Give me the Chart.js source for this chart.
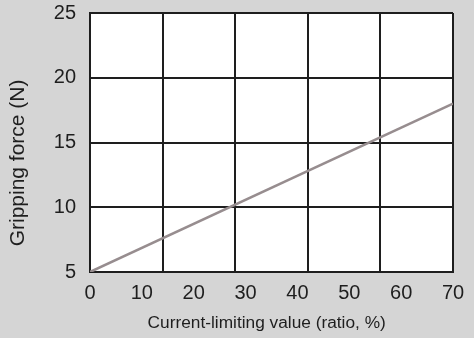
<!DOCTYPE html>
<html>
<head>
<meta charset="utf-8">
<script src="https://cdn.jsdelivr.net/npm/chart.js@4/dist/chart.umd.min.js"></script>
<style>
  html, body { margin: 0; padding: 0; background: #d5d5d5; }
  #wrap { width: 474px; height: 338px; }
</style>
</head>
<body>
<div id="wrap"><canvas id="chart"></canvas></div>
<script>
// data
const currentRatio = [0, 70];
const grippingForce = [5, 18];
const xTickValues = [0, 10, 20, 30, 40, 50, 60, 70];
const yTickValues = [5, 10, 15, 20, 25];
const xGridValues = [0, 14, 28, 42, 56, 70];

const ink = '#1e1e1e';
const family = 'Liberation Sans, Arial, sans-serif';
const tickFont = { family: family, size: 20 };

// white plot area
const plotBackground = {
    id: 'plotBackground',
    beforeDraw(chart) {
        const { ctx, chartArea: a } = chart;
        ctx.save();
        ctx.fillStyle = '#ffffff';
        ctx.fillRect(a.left, a.top, a.right - a.left, a.bottom - a.top);
        ctx.restore();
    }
};

new Chart(document.getElementById('chart'), {
    type: 'scatter',
    data: {
        datasets: [{
            data: currentRatio.map((x, i) => ({ x: x, y: grippingForce[i] })),
            showLine: true,
            borderColor: '#978d8f',
            borderWidth: 2.5,
            pointRadius: 0,
            fill: false
        }]
    },
    options: {
        responsive: true,
        maintainAspectRatio: false,
        animation: false,
        layout: { padding: { top: 13, right: 21, bottom: 0, left: 0 } },
        plugins: {
            legend: { display: false },
            tooltip: { enabled: false }
        },
        scales: {
            x: {
                type: 'linear',
                min: 0,
                max: 70,
                afterBuildTicks: s => { s.ticks = xTickValues.map(v => ({ value: v })); },
                afterFit: s => { s.height = 66; s.paddingLeft = 0; s.paddingRight = 0; },
                grid: { display: false },
                border: { color: ink, width: 2 },
                ticks: { color: ink, font: tickFont, padding: 1 },
                title: {
                    display: true,
                    // trailing spaces nudge the centred title a little left, as in the original
                    text: 'Current-limiting value (ratio, %)  ',
                    color: ink,
                    font: { family: family, size: 17.3 },
                    padding: { top: 0 }
                }
            },
            xg: {
                type: 'linear',
                position: 'top',
                min: 0,
                max: 70,
                afterBuildTicks: s => { s.ticks = xGridValues.map(v => ({ value: v })); },
                afterFit: s => { s.height = 0; s.paddingLeft = 0; s.paddingRight = 0; },
                grid: { color: ink, lineWidth: 2, drawTicks: false },
                border: { display: false },
                ticks: { display: false }
            },
            y: {
                min: 5,
                max: 25,
                afterBuildTicks: s => { s.ticks = yTickValues.map(v => ({ value: v })); },
                afterFit: s => { s.width = 90; s.paddingTop = 0; s.paddingBottom = 0; },
                grid: { color: ink, lineWidth: 2, drawTicks: false },
                border: { color: ink, width: 2 },
                ticks: { color: ink, font: tickFont, padding: 14 },
                title: {
                    display: true,
                    text: 'Gripping force (N)       ',
                    color: ink,
                    font: { family: family, size: 21 },
                    padding: { top: 6, bottom: 0 }
                }
            }
        }
    },
    plugins: [plotBackground]
});
</script>
</body>
</html>
